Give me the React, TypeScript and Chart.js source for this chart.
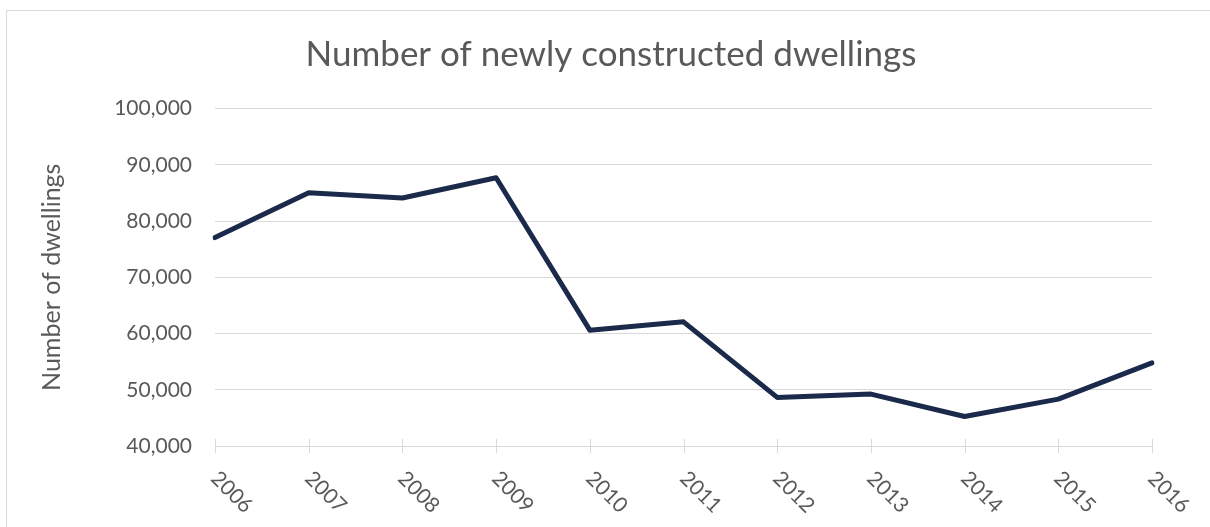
import React, { useEffect, useRef } from "react";
import { Chart, registerables } from "chart.js";

Chart.register(...registerables);

const years: string[] = ["2006", "2007", "2008", "2009", "2010", "2011", "2012", "2013", "2014", "2015", "2016"];
const dwellings: number[] = [77050, 85040, 84080, 87700, 60590, 62070, 48640, 49230, 45250, 48340, 54770];
const yMin = 40000;
const yMax = 100000;
const yStep = 10000;
const chartTitle = "Number of newly constructed dwellings";
const yAxisTitle = "Number of dwellings";

const FONT = "Lato";
const TEXT = "#595959";
const GRID = "#d9d9d9";
const LINE = "#1b2a4a";

const decor = {
  id: "decor",
  beforeDraw(chart: any) {
    const ctx = chart.ctx;
    ctx.save();
    ctx.fillStyle = "#ffffff";
    ctx.fillRect(0, 0, chart.width, chart.height);
    ctx.strokeStyle = GRID;
    ctx.lineWidth = 1;
    ctx.strokeRect(6.5, 10.5, chart.width + 20, chart.height + 20);
    ctx.restore();
  },
  beforeDatasetsDraw(chart: any) {
    const ctx = chart.ctx;
    const xs = chart.scales.x;
    const bottom = Math.round(chart.chartArea.bottom);
    ctx.save();
    ctx.strokeStyle = GRID;
    ctx.lineWidth = 1;
    ctx.fillStyle = TEXT;
    ctx.font = `21px ${FONT}`;
    ctx.textAlign = "left";
    ctx.textBaseline = "middle";
    years.forEach((label, i) => {
      const px = Math.round(xs.getPixelForValue(i)) + 0.5;
      ctx.beginPath();
      ctx.moveTo(px, bottom - 7);
      ctx.lineTo(px, bottom + 7);
      ctx.stroke();
      ctx.save();
      ctx.translate(px - 1, bottom + 29);
      ctx.rotate(Math.PI / 4);
      ctx.fillText(label, 0, 0);
      ctx.restore();
    });
    ctx.restore();
  },
};

export default function App() {
  const ref = useRef<HTMLCanvasElement | null>(null);
  useEffect(() => {
    if (!ref.current) return;
    const chart = new Chart(ref.current, {
      type: "line",
      data: {
        labels: years,
        datasets: [
          {
            data: dwellings,
            yAxisID: "y",
            borderColor: LINE,
            borderWidth: 5,
            pointRadius: 0,
            pointHoverRadius: 0,
            fill: false,
            tension: 0,
            borderCapStyle: "round",
            borderJoinStyle: "round",
          },
        ],
      },
      options: {
        responsive: false,
        animation: false,
        events: [],
        layout: { padding: { left: 12, right: 0, top: 0, bottom: 0 } },
        plugins: {
          legend: { display: false },
          tooltip: { enabled: false },
          title: {
            display: true,
            text: chartTitle,
            color: TEXT,
            font: { family: FONT, size: 35, weight: "normal", lineHeight: 1.2 },
            padding: { top: 34, bottom: 32.5 },
          },
        },
        scales: {
          x: {
            type: "category",
            offset: false,
            grid: { display: false },
            border: { display: false },
            ticks: { display: false },
            afterFit(scale: any) {
              scale.height = 81;
            },
          },
          y: {
            position: "left",
            min: yMin,
            max: yMax,
            border: { display: false },
            grid: { color: GRID, lineWidth: 1, drawTicks: false },
            ticks: {
              stepSize: yStep,
              color: TEXT,
              padding: 23,
              font: { family: FONT, size: 21 },
              callback: (v: any) => Number(v).toLocaleString("en-US"),
            },
            title: {
              display: true,
              text: yAxisTitle,
              color: TEXT,
              font: { family: FONT, size: 25, lineHeight: 1.2 },
              padding: { top: 25, bottom: 0 },
            },
            afterFit(scale: any) {
              scale.width = 203;
            },
          },
          yRight: {
            position: "right",
            min: yMin,
            max: yMax,
            grid: { display: false },
            border: { display: false },
            ticks: { display: false },
            afterFit(scale: any) {
              scale.width = 58;
            },
          },
        },
      },
      plugins: [decor],
    } as any);
    return () => chart.destroy();
  }, []);
  return (
    <div style={{ position: "fixed", left: 0, top: 0, width: 1210, height: 527, background: "#fff" }}>
      <canvas ref={ref} width={1210} height={527} style={{ display: "block" }} />
    </div>
  );
}
